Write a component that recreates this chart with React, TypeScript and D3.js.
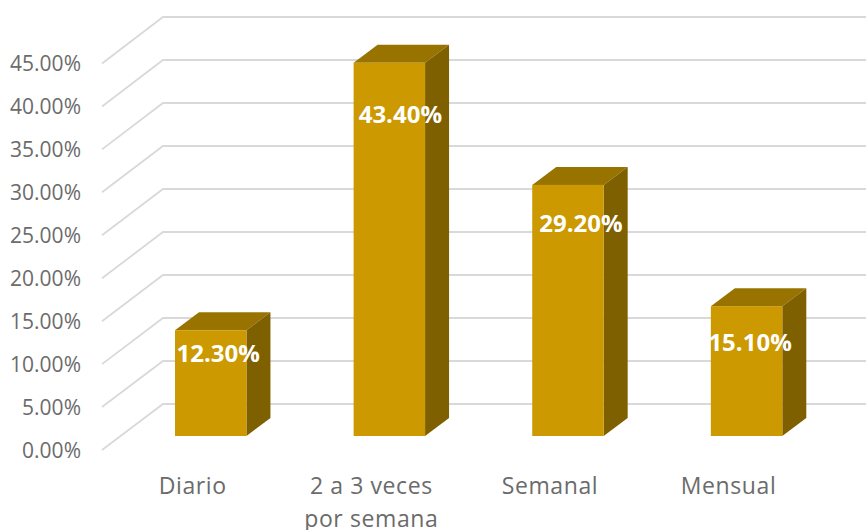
import React from 'react';
import * as d3 from 'd3';

const categories = ['Diario', '2 a 3 veces por semana', 'Semanal', 'Mensual'];
const values = [12.3, 43.4, 29.2, 15.1];
const ticks = [0, 5, 10, 15, 20, 25, 30, 35, 40, 45];

// data labels were dragged around by hand in the original chart
const labelNudgeX = [-4.5, -1, 1, -8.5];
const labelDrop = [23, 52, 38, 36];

const width = 866;
const height = 530;
const depthX = 24; // bar side offset
const depthY = 18;
const font = '"Open Sans", sans-serif';

// back wall, front edge of the floor, and bar fronts all share the value domain
const yBack = d3.scaleLinear().domain([0, 45]).range([404, 17]);
const yFront = d3.scaleLinear().domain([0, 45]).range([450, 63.5]);
const yBar = d3.scaleLinear().domain([0, 45]).range([436, 49]);

const xBar = d3
	.scaleBand<string>()
	.domain(categories)
	.range([175, 782.3])
	.paddingInner(0.6);

const App: React.FC = () => {
	const barW = xBar.bandwidth();
	const line = d3.line();
	return (
		<svg
			width={width}
			height={height}
			style={{ position: 'absolute', left: 0, top: 0, background: '#fff' }}>
			{ticks.map((t) => (
				<g key={t}>
					<path
						d={
							line([
								[102, yFront(t)],
								[163, yBack(t)],
								[width, yBack(t)],
							]) ?? ''
						}
						fill="none"
						stroke="#d9d9d9"
						strokeWidth={1.8}
					/>
					<text
						x={81}
						y={yFront(t)}
						dy="0.36em"
						textAnchor="end"
						fontFamily={font}
						fontSize={21}
						fill="#6b6b6b">
						{d3.format('.2f')(t)}%
					</text>
				</g>
			))}
			{values.map((v, i) => {
				const x = xBar(categories[i]) ?? 0;
				const top = yBar(v);
				const bottom = yBar(0);
				return (
					<g key={categories[i]}>
						<path
							d={`M${x},${top}l${depthX},${-depthY}h${barW}l${-depthX},${depthY}z`}
							fill="#997300"
						/>
						<path
							d={`M${x + barW},${top}l${depthX},${-depthY}V${bottom - depthY}l${-depthX},${depthY}z`}
							fill="#7f6000"
						/>
						<rect
							x={x}
							y={top}
							width={barW}
							height={bottom - top}
							fill="#cc9900"
						/>
						<text
							x={x + barW / 2 + depthX / 2 + labelNudgeX[i]}
							y={top + labelDrop[i]}
							dy="0.36em"
							textAnchor="middle"
							fontFamily={font}
							fontWeight={700}
							fontSize={24}
							fill="#fff">
							{d3.format('.2f')(v)}%
						</text>
					</g>
				);
			})}
			{categories.map((c, i) => {
				const cx = (xBar(c) ?? 0) + barW / 2 - 18;
				const lines = c === '2 a 3 veces por semana' ? ['2 a 3 veces', 'por semana'] : [c];
				return (
					<text
						key={c}
						textAnchor="middle"
						fontFamily={font}
						fontSize={23}
						letterSpacing={0.6}
						fill="#6b6b6b">
						{lines.map((l, j) => (
							// the second line runs off the bottom edge in the original too
							<tspan key={l} x={cx} y={494 + j * 33}>
								{l}
							</tspan>
						))}
					</text>
				);
			})}
		</svg>
	);
};

export default App;
